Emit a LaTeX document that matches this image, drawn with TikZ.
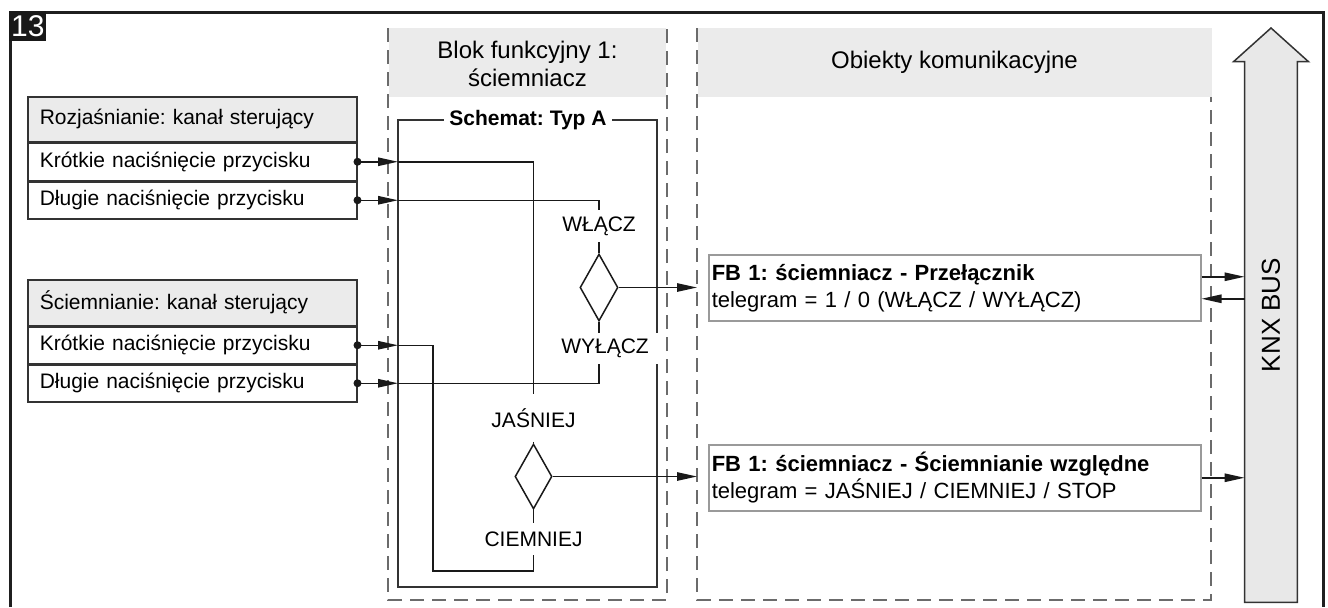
\documentclass[tikz,border=0pt]{standalone}
\usepackage{fontspec}
\setmainfont{Liberation Sans}
\usetikzlibrary{shapes.geometric,arrows.meta,calc}
\frenchspacing

\definecolor{headgray}{HTML}{EBEBEB}
\definecolor{edgecol}{HTML}{333333}
\definecolor{dashcol}{HTML}{6B6B6B}
\definecolor{fbcol}{HTML}{9A9A9A}
\definecolor{busfill}{HTML}{E8E8E8}

\begin{document}
\begin{tikzpicture}[x=0.5pt,y=-0.5pt,
  txt/.style={font=\fontsize{10.5}{12.6}\selectfont},
  chanhead/.style={draw=edgecol, fill=headgray, line width=0.75pt, text width=152.5pt,
    inner xsep=6pt, inner ysep=0pt, anchor=north west, align=left, txt},
  chanrow/.style={chanhead, fill=white},
  conn/.style={line width=0.75pt, draw=black!90},
  arr/.style={conn, -{Triangle[length=10pt,width=4.2pt]}},
  dot/.style={fill=black!90},
  sig/.style={fill=white, inner sep=0pt, txt},
  gate/.style={diamond, draw=black!90, line width=0.75pt, inner sep=0pt},
  dashline/.style={draw=dashcol, line width=1pt, dash pattern=on 7pt off 4pt},
  fbbox/.style={draw=fbcol, fill=white, line width=0.75pt, text width=243pt, inner xsep=1.5pt,
    inner ysep=0pt, minimum height=33pt, anchor=north west, align=left,
    font=\fontsize{11}{13.5}\selectfont},
  header/.style={align=center, font=\fontsize{12}{14}\selectfont}
]
\useasboundingbox (0,0) rectangle (1328,607);

% outer frame and number badge
\draw[line width=1.5pt, draw=black!88] (10,607) -- (10,12) -- (1323,12) -- (1323,607);
\node[fill=black!90, text=white, minimum width=18.5pt, minimum height=15pt, inner sep=0pt,
  anchor=north west, font=\fontsize{15}{15}\selectfont] (badge) at (9,11) {13};

% dashed columns with grey headers
\draw[dashline] (388,28) -- (388,600) -- (667,600) -- (667,28);
\draw[dashline] (697,28) -- (697,600) -- (1211,600) -- (1211,97);
\fill[headgray] (389,28) rectangle (666,97);
\fill[headgray] (698,28) rectangle (1212,97);
\node[header] (colA) at (527.5,64) {Blok funkcyjny 1:\\ściemniacz};
\node[header] (colB) at (954.5,62) {Obiekty komunikacyjne};

% control channels
\node[chanhead, minimum height=22.5pt] (r0) at (27,96) {Rozjaśnianie: kanał sterujący};
\node[chanrow, minimum height=18.5pt] (r1) at (r0.south west) {Krótkie naciśnięcie przycisku};
\node[chanrow, minimum height=18.5pt] (r2) at (r1.south west) {Długie naciśnięcie przycisku};

\node[chanhead, minimum height=23pt] (s0) at (27,279) {Ściemnianie: kanał sterujący};
\node[chanrow, minimum height=18pt] (s1) at (s0.south west) {Krótkie naciśnięcie przycisku};
\node[chanrow, minimum height=18.5pt] (s2) at (s1.south west) {Długie naciśnięcie przycisku};

% scheme box
\node[draw=edgecol, line width=0.75pt, minimum width=129.5pt, minimum height=233.5pt,
  inner sep=0pt] (schemat) at (527.5,353.5) {};
\node[fill=white, inner xsep=2.5pt, inner ysep=1pt, font=\bfseries\fontsize{10.5}{12.6}\selectfont]
  (schtitle) at (528,120) {Schemat: Typ A};

\coordinate (sL) at (398,0);
\coordinate (oL) at (697,0);

% signal labels and gates
\node[sig, minimum width=47.5pt, minimum height=16pt] (won) at (599,226) {WŁĄCZ};
\node[gate, minimum width=19pt, minimum height=33.5pt] (d1) at (599,287.5) {};
\node[sig, minimum width=54pt, minimum height=15.5pt] (woff) at (605,348.5) {WYŁĄCZ};

\node[sig, minimum width=58pt, minimum height=23.5pt] (jas) at (533.5,418) {JAŚNIEJ};
\node[gate, minimum width=18.5pt, minimum height=32.5pt] (d2) at (533.5,476.5) {};
\node[sig, minimum width=58pt, minimum height=16pt] (ciem) at (533.5,539) {CIEMNIEJ};

% inputs into the scheme
\foreach \n in {r1,r2,s1,s2}{
  \fill[dot] (\n.east) circle (2pt);
  \draw[arr] (\n.east) -- (\n.east -| sL);
}
\coordinate (kx) at (433,571);
\draw[conn] (r1.east -| sL) -| (jas.north);
\draw[conn] (r2.east -| sL) -| (won.north);
\draw[conn] (s1.east -| sL) -| (kx) -| (ciem.south);
\draw[conn] (s2.east -| sL) -| (d1.south |- woff.south);

\draw[conn] (won.south) -- (d1.north);
\draw[conn] (d1.south) -- (d1.south |- woff.north);
\draw[conn] (jas.south) -- (d2.north);
\draw[conn] (d2.south) -- (ciem.north);

% outputs to communication objects
\draw[arr] (d1.east) -- (d1.east -| oL);
\draw[arr] (d2.east) -- (d2.east -| oL);

\node[fbbox] (fb1) at (708,254) {\textbf{FB 1: ściemniacz - Przełącznik}\\telegram = 1 / 0 (WŁĄCZ / WYŁĄCZ)};
\node[fbbox] (fb2) at (708,444) {\textbf{FB 1: ściemniacz - Ściemnianie względne}\\telegram = JAŚNIEJ / CIEMNIEJ / STOP};

% KNX bus
\node[minimum width=26pt, minimum height=270pt, inner sep=0pt] (bus) at (1271,332) {};
\draw[draw=edgecol, fill=busfill, line width=0.75pt, line join=miter]
  (bus.south west) -- (bus.north west) -- ++(-11,0) -- (1271,28)
  -- ($(bus.north east)+(11,0)$) -- (bus.north east) -- (bus.south east) -- cycle;
\node[rotate=90, font=\fontsize{13}{15}\selectfont] (knx) at (1271,315) {KNX BUS};

\coordinate (t1) at ($(fb1.east)+(0,-11)$);
\coordinate (t2) at ($(fb1.east)+(0,11)$);
\draw[arr] (t1) -- (t1 -| bus.west);
\draw[arr] (t2 -| bus.west) -- (t2);
\draw[arr] (fb2.east) -- (fb2.east -| bus.west);
\end{tikzpicture}
\end{document}
